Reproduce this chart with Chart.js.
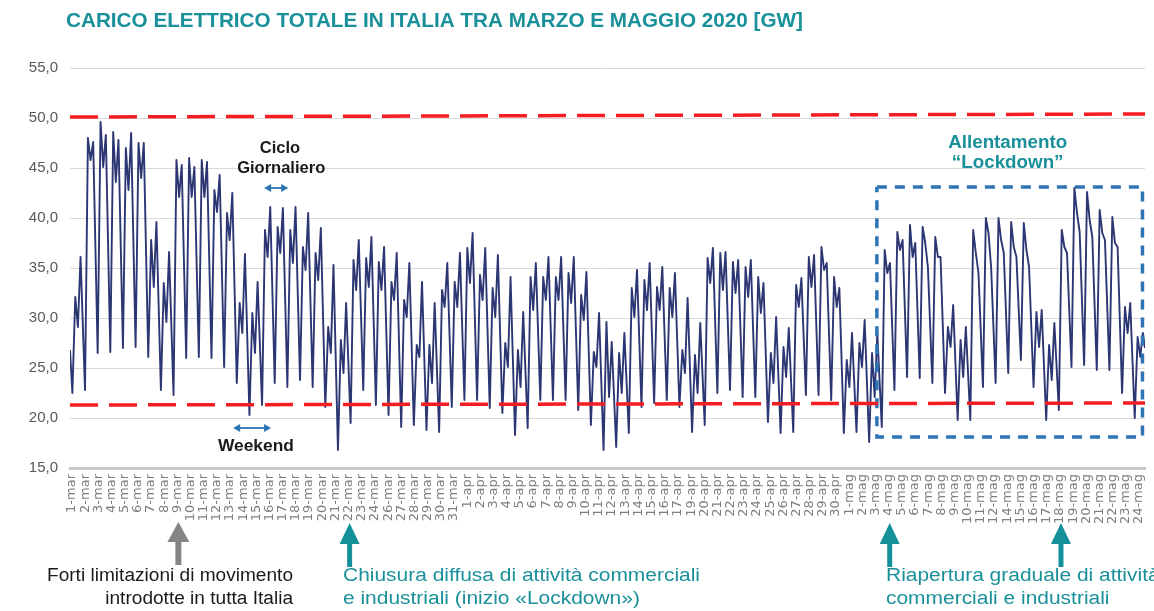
<!DOCTYPE html>
<html>
<head>
<meta charset="utf-8">
<script src="https://cdn.jsdelivr.net/npm/chart.js@4.4.1/dist/chart.umd.min.js"></script>
<style>
  html, body { margin: 0; padding: 0; background: #ffffff; }
  #wrap { width: 1154px; height: 611px; position: relative; }
</style>
</head>
<body>
<div id="wrap"><canvas id="c" width="1154" height="611"></canvas></div>
<script>
// ---------- DATA ----------
const dayLabels = [
  "1-mar","2-mar","3-mar","4-mar","5-mar","6-mar","7-mar","8-mar","9-mar","10-mar",
  "11-mar","12-mar","13-mar","14-mar","15-mar","16-mar","17-mar","18-mar","19-mar","20-mar",
  "21-mar","22-mar","23-mar","24-mar","26-mar","27-mar","28-mar","29-mar","30-mar","31-mar",
  "1-apr","2-apr","3-apr","4-apr","5-apr","6-apr","7-apr","8-apr","9-apr","10-apr",
  "11-apr","12-apr","13-apr","14-apr","15-apr","16-apr","17-apr","19-apr","20-apr","21-apr",
  "22-apr","23-apr","24-apr","25-apr","26-apr","27-apr","28-apr","29-apr","30-apr",
  "1-mag","2-mag","3-mag","4-mag","5-mag","6-mag","7-mag","8-mag","9-mag","10-mag",
  "11-mag","12-mag","14-mag","15-mag","16-mag","17-mag","18-mag","19-mag","20-mag","21-mag",
  "22-mag","23-mag","24-mag"
];
// one entry per day, 1-mar ... 24-mag (85 days), GW
const nightMin = [
  22.5,22.8,26.5,26.6,27.0,27.1,26.1,22.8,22.3,26.0,
  26.1,26.0,25.1,23.5,20.3,21.3,23.5,23.1,23.8,23.1,
  21.1,16.8,19.5,22.8,21.3,20.3,19.1,19.3,18.8,18.6,
  21.1,21.8,21.8,21.0,20.5,18.3,19.0,21.8,21.8,21.8,
  20.8,19.3,16.8,17.1,18.5,21.1,21.5,21.8,21.1,18.6,
  19.3,22.5,22.8,22.1,22.1,19.6,18.5,18.6,22.3,22.3,
  21.8,18.5,18.6,17.6,19.1,22.8,24.1,24.0,23.5,22.5,
  19.8,19.8,23.1,23.5,24.5,25.8,23.1,19.8,20.8,25.1,
  25.3,24.8,24.8,22.5,20.0
];
const morningPeak = [
  32.1,48.0,49.6,48.6,47.0,47.5,37.8,33.5,45.8,46.0,
  45.8,42.8,40.5,31.5,30.5,38.8,39.1,38.8,37.1,36.5,
  29.1,27.8,35.8,36.0,35.6,33.6,31.8,27.3,27.3,32.8,
  33.6,37.0,34.3,33.0,27.5,26.8,34.1,34.1,34.1,34.5,
  32.3,26.6,29.6,26.5,33.0,33.8,33.1,33.0,26.8,26.3,
  36.0,36.5,35.6,35.1,34.1,26.5,27.1,33.3,36.1,37.1,
  34.1,25.8,27.5,26.5,36.8,38.6,39.3,39.1,38.1,29.1,
  27.8,38.8,40.0,40.0,39.6,39.5,30.6,27.3,38.8,43.0,
  42.6,40.8,40.1,31.1,28.1
];
const afternoonLoad = [
  29.1,45.8,45.1,43.6,42.8,44.0,33.1,29.6,42.1,42.1,
  42.1,40.6,37.8,28.5,26.5,36.1,36.5,35.5,34.8,33.8,
  26.5,24.5,32.8,33.1,32.8,31.8,30.1,26.1,23.5,31.1,
  31.1,33.5,31.8,30.1,25.1,23.1,30.8,31.8,31.8,31.5,
  29.8,25.1,22.1,22.5,30.1,30.8,30.8,30.1,24.5,22.5,
  33.5,32.8,32.5,32.1,30.5,23.5,24.1,31.1,33.1,34.8,
  31.1,23.1,25.1,22.1,34.5,36.8,36.1,37.5,36.1,27.1,
  24.1,36.5,38.5,37.8,37.1,36.8,27.1,23.8,37.1,40.5,
  39.8,38.5,37.5,28.5,26.1
];
const eveningPeak = [
  36.1,47.6,48.3,47.8,48.5,47.5,39.6,36.6,45.3,45.1,
  45.6,44.3,42.5,36.4,33.6,41.1,41.0,41.1,40.5,39.0,
  35.3,31.5,37.8,38.1,37.1,36.5,35.5,33.6,31.5,35.5,
  36.5,38.5,37.0,36.3,34.1,30.6,35.5,36.1,36.1,36.1,
  34.6,30.5,27.6,28.5,34.8,35.5,35.1,34.5,32.0,29.5,
  37.0,36.6,35.8,35.8,33.5,30.1,29.0,34.0,36.3,35.5,
  33.0,28.5,29.8,28.5,35.5,37.8,37.5,35.1,36.1,31.3,
  29.1,34.5,35.1,36.5,36.1,35.1,30.8,29.5,36.5,38.6,
  38.1,37.8,37.1,31.5,28.5
];
const startLoad = 26.8;     // 1-mar 00:00
const endLoad = 27.0;       // end of 24-mag
const upperRef = [50.1, 50.4];   // dashed red line (left, right)
const lowerRef = [21.3, 21.5];
const boxDays = [63.8, 84.8];    // dashed "Lockdown" box extent (days from 1-mar)
const boxLoads = [18.1, 43.1];
const yRange = [15, 55, 5];

// ---------- build series ----------
const H = [4.5/24, 10/24, 15/24, 20/24];
const loadPoints = [{x: 0, y: startLoad}];
for (let i = 0; i < nightMin.length; i++) {
  loadPoints.push({x: i + H[0], y: nightMin[i]});
  loadPoints.push({x: i + H[1], y: morningPeak[i]});
  loadPoints.push({x: i + H[2], y: afternoonLoad[i]});
  loadPoints.push({x: i + H[3], y: eveningPeak[i]});
}
loadPoints.push({x: nightMin.length, y: endLoad});
const nDays = nightMin.length;

const boxPoints = [
  {x: boxDays[0], y: boxLoads[1]}, {x: boxDays[1], y: boxLoads[1]},
  {x: boxDays[1], y: boxLoads[0]}, {x: boxDays[0], y: boxLoads[0]},
  {x: boxDays[0], y: boxLoads[1]}
];

const TEAL = '#1a909a';
const BLUE = '#2e75b6';
const F = '"Liberation Sans", Arial, sans-serif';

// draw text at a given font size, squeezed horizontally to a target width
function squeezed(ctx, text, x, y, size, weight, width, align) {
  ctx.font = weight + ' ' + size + 'px ' + F;
  const w = ctx.measureText(text).width;
  const sx = width / w;
  ctx.save();
  ctx.textAlign = 'left';
  const x0 = align === 'right' ? x - width : (align === 'center' ? x - width / 2 : x);
  ctx.translate(x0, y);
  ctx.scale(sx, 1);
  ctx.fillText(text, 0, 0);
  ctx.restore();
  return sx;
}
function scaledText(ctx, text, x, y, size, weight, sx, align) {
  ctx.font = weight + ' ' + size + 'px ' + F;
  const w = ctx.measureText(text).width * sx;
  const x0 = align === 'right' ? x - w : (align === 'center' ? x - w / 2 : x);
  ctx.save();
  ctx.textAlign = 'left';
  ctx.translate(x0, y);
  ctx.scale(sx, 1);
  ctx.fillText(text, 0, 0);
  ctx.restore();
}
function upArrow(ctx, cx, tip, headBase, bottom, headW, shaftW, color) {
  ctx.fillStyle = color;
  ctx.beginPath();
  ctx.moveTo(cx, tip);
  ctx.lineTo(cx + headW / 2, headBase);
  ctx.lineTo(cx + shaftW / 2, headBase);
  ctx.lineTo(cx + shaftW / 2, bottom);
  ctx.lineTo(cx - shaftW / 2, bottom);
  ctx.lineTo(cx - shaftW / 2, headBase);
  ctx.lineTo(cx - headW / 2, headBase);
  ctx.closePath();
  ctx.fill();
}
function dblArrow(ctx, x1, x2, y, color) {
  ctx.save();
  ctx.strokeStyle = color; ctx.fillStyle = color; ctx.lineWidth = 1.8;
  ctx.beginPath(); ctx.moveTo(x1 + 5, y); ctx.lineTo(x2 - 5, y); ctx.stroke();
  ctx.beginPath(); ctx.moveTo(x1, y); ctx.lineTo(x1 + 7, y - 4); ctx.lineTo(x1 + 7, y + 4); ctx.closePath(); ctx.fill();
  ctx.beginPath(); ctx.moveTo(x2, y); ctx.lineTo(x2 - 7, y - 4); ctx.lineTo(x2 - 7, y + 4); ctx.closePath(); ctx.fill();
  ctx.restore();
}

const annotations = {
  id: 'annotations',
  afterDraw(chart) {
    const ctx = chart.ctx;
    const x = chart.scales.x, y = chart.scales.y, xl = chart.scales.xl;
    ctx.save();
    ctx.textBaseline = 'alphabetic';

    // title
    ctx.fillStyle = TEAL;
    squeezed(ctx, 'CARICO ELETTRICO TOTALE IN ITALIA TRA MARZO E MAGGIO 2020 [GW]', 66, 27, 19.5, 'bold', 737, 'left');

    // Ciclo giornaliero
    ctx.fillStyle = '#1a1a1a';
    const sxG = squeezed(ctx, 'Giornaliero', x.getPixelForValue(16.7), y.getPixelForValue(44.5), 16.5, 'bold', 88, 'center');
    scaledText(ctx, 'Ciclo', x.getPixelForValue(16.6), y.getPixelForValue(46.5), 16.5, 'bold', sxG, 'center');
    dblArrow(ctx, x.getPixelForValue(15.35), x.getPixelForValue(17.25), y.getPixelForValue(43.0), BLUE);

    // Weekend
    ctx.fillStyle = '#1a1a1a';
    squeezed(ctx, 'Weekend', x.getPixelForValue(14.7), y.getPixelForValue(16.75), 16, 'bold', 76, 'center');
    dblArrow(ctx, x.getPixelForValue(12.9), x.getPixelForValue(15.9), y.getPixelForValue(19.0), BLUE);

    // Allentamento "Lockdown"
    ctx.fillStyle = TEAL;
    const cxBox = (x.getPixelForValue(boxDays[0]) + x.getPixelForValue(boxDays[1])) / 2;
    const sxA = squeezed(ctx, 'Allentamento', cxBox - 2, y.getPixelForValue(47.0), 17.5, 'bold', 119, 'center');
    scaledText(ctx, '\u201CLockdown\u201D', cxBox - 2, y.getPixelForValue(45.0), 17.5, 'bold', sxA, 'center');

    // arrows under axis, pointing at label positions
    const gx = xl.getPixelForValue(dayLabels.indexOf('9-mar'));
    upArrow(ctx, gx + 1, 522, 542, 565, 22, 6, '#858585');
    ['22-mar', '4-mag', '18-mag'].forEach(lbl => {
      const ax = xl.getPixelForValue(dayLabels.indexOf(lbl));
      upArrow(ctx, ax + 1, 523, 544, 567, 20, 5, '#13909a');
    });

    // bottom captions
    ctx.fillStyle = '#1a1a1a';
    const sxF = squeezed(ctx, 'Forti limitazioni di movimento', 293, 581, 18, 'normal', 246, 'right');
    scaledText(ctx, 'introdotte in tutta Italia', 293, 604, 18, 'normal', sxF, 'right');

    ctx.fillStyle = TEAL;
    const sxC = squeezed(ctx, 'Chiusura diffusa di attivit\u00E0 commerciali', 343, 581, 18, 'normal', 357, 'left');
    scaledText(ctx, 'e industriali (inizio \u00ABLockdown\u00BB)', 343, 604, 18, 'normal', sxC, 'left');
    scaledText(ctx, 'Riapertura graduale di attivit\u00E0', 886, 581, 18, 'normal', sxC, 'left');
    scaledText(ctx, 'commerciali e industriali', 886, 604, 18, 'normal', sxC, 'left');
    ctx.restore();
  }
};

new Chart(document.getElementById('c'), {
  type: 'line',
  data: {
    datasets: [
      { data: [{x: 0, y: upperRef[0]}, {x: nDays, y: upperRef[1]}], borderColor: '#f51c22', borderWidth: 3.5,
        borderDash: [28, 11], pointRadius: 0, order: 0, xAxisID: 'x', yAxisID: 'y' },
      { data: [{x: 0, y: lowerRef[0]}, {x: nDays, y: lowerRef[1]}], borderColor: '#f51c22', borderWidth: 3.5,
        borderDash: [28, 11], pointRadius: 0, order: 0, xAxisID: 'x', yAxisID: 'y' },
      { data: boxPoints, borderColor: BLUE, borderWidth: 3.5, borderDash: [10, 8], pointRadius: 0,
        order: 0, xAxisID: 'x', yAxisID: 'y' },
      { data: loadPoints, borderColor: '#2b3673', borderWidth: 1.9, pointRadius: 0, tension: 0,
        borderJoinStyle: 'round', order: 1, xAxisID: 'x', yAxisID: 'y' }
    ]
  },
  options: {
    responsive: false,
    animation: false,
    layout: { padding: { top: 68, right: 9, left: 0, bottom: 0 } },
    plugins: { legend: { display: false }, tooltip: { enabled: false }, title: { display: false } },
    scales: {
      x: { type: 'linear', min: 0, max: nDays, display: false },
      xl: {
        type: 'linear', position: 'bottom', min: -0.1518, max: 81.455,
        afterBuildTicks: s => { s.ticks = dayLabels.map((_, k) => ({ value: k })); },
        afterFit: s => { s.height = 143; s.paddingLeft = 0; s.paddingRight = 0; },
        grid: { display: false, drawTicks: false },
        border: { display: true, color: '#c8c8c8', width: 3 },
        ticks: {
          autoSkip: false, maxRotation: 90, minRotation: 90, padding: 6,
          color: '#7f7f7f', font: { family: '"DejaVu Sans", sans-serif', size: 13 },
          callback: (v, i) => dayLabels[i]
        }
      },
      y: {
        min: yRange[0], max: yRange[1],
        afterFit: s => { s.width = 70; },
        grid: { color: '#d9d9d9', drawTicks: false, lineWidth: 1 },
        border: { display: false },
        ticks: {
          stepSize: yRange[2], padding: 12, color: '#595959',
          font: { family: '"Liberation Sans", Arial, sans-serif', size: 15 },
          callback: v => v.toFixed(1).replace('.', ',')
        }
      }
    }
  },
  plugins: [annotations]
});
</script>
</body>
</html>
